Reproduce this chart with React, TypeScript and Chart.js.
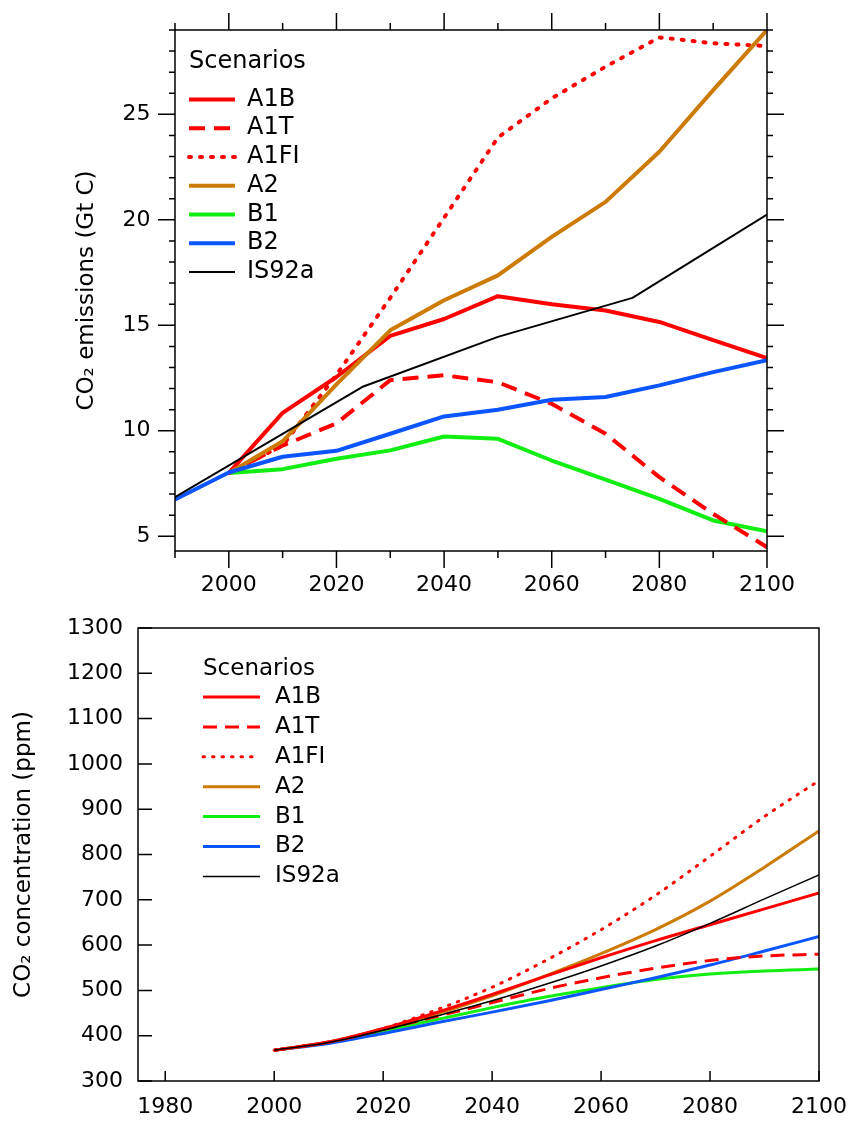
import React, { useEffect, useRef } from 'react';
import { Chart, registerables } from 'chart.js';

Chart.register(...registerables);

const FONT = '"DejaVu Sans", "Liberation Sans", sans-serif';

// ---------- Top chart: CO2 emissions (Gt C) ----------
const emisYears = [1990, 2000, 2010, 2020, 2030, 2040, 2050, 2060, 2070, 2080, 2090, 2100];
const emisA1B = [null, 8.0, 10.85, 12.55, 14.5, 15.3, 16.38, 16.0, 15.7, 15.16, 14.3, 13.45];
const emisA1T = [null, 8.0, 9.3, 10.35, 12.4, 12.63, 12.3, 11.28, 9.86, 7.8, 6.06, 4.48];
const emisA1FI = [null, 8.0, 9.3, 12.65, 16.3, 20.1, 23.9, 25.76, 27.26, 28.65, 28.37, 28.24];
const emisA2 = [null, 8.0, 9.5, 12.2, 14.76, 16.19, 17.37, 19.19, 20.85, 23.23, 26.15, 29.0];
const emisB1 = [null, 8.0, 8.18, 8.67, 9.07, 9.73, 9.62, 8.59, 7.68, 6.77, 5.75, 5.24];
const emisB2 = [6.74, 8.02, 8.77, 9.05, 9.86, 10.68, 11.0, 11.47, 11.6, 12.15, 12.78, 13.34];
const emisIS92aYears = [1990, 2025, 2050, 2075, 2100];
const emisIS92a = [6.85, 12.1, 14.45, 16.3, 20.25];

const emisXTicks = [2000, 2020, 2040, 2060, 2080, 2100];
const emisXMinor = [1990, 2010, 2030, 2050, 2070, 2090];
const emisYTicks = [5, 10, 15, 20, 25];
const emisYMinor = [6, 7, 8, 9, 11, 12, 13, 14, 16, 17, 18, 19, 21, 22, 23, 24, 26, 27, 28, 29];

// ---------- Bottom chart: CO2 concentration (ppm) ----------
const concYears = [2000, 2010, 2020, 2030, 2040, 2050, 2060, 2070, 2080, 2090, 2100];
const concA1B = [368, 386, 416, 452, 491, 532, 572, 610, 645, 680, 715];
const concA1T = [368, 386, 414, 443, 473, 503, 528, 549, 566, 576, 580];
const concA1FI = [368, 386, 416, 458, 507, 567, 634, 710, 796, 884, 963];
const concA2 = [368, 386, 414, 449, 488, 533, 581, 634, 697, 772, 852];
const concB1 = [368, 385, 410, 436, 462, 486, 506, 524, 536, 543, 547];
const concB2 = [368, 383, 405, 429, 452, 476, 502, 528, 556, 587, 619];
const concIS92a = [368, 385, 412, 444, 477, 514, 554, 598, 648, 702, 755];

const concXTicks = [1980, 2000, 2020, 2040, 2060, 2080, 2100];
const concYTicks = [300, 400, 500, 600, 700, 800, 900, 1000, 1100, 1200, 1300];

const scenarioNames = ['A1B', 'A1T', 'A1FI', 'A2', 'B1', 'B2', 'IS92a'];

const RED = '#ff0000';
const ORANGE = '#cc7a00';
const GREEN = '#11ee11';
const BLUE = '#0a55ff';
const BLACK = '#000000';

function pts(xs: number[], ys: (number | null)[]) {
  return xs.map((x, i) => ({ x, y: ys[i] })).filter((p) => p.y !== null);
}

function makeDatasets(series: { x: number[]; y: (number | null)[] }[], thick: number, thin: number, dash: number[], dot: number[], orders: number[]) {
  const styles = [
    { c: RED, w: thick, d: [] as number[], cap: 'butt' },
    { c: RED, w: thick, d: dash, cap: 'butt' },
    { c: RED, w: thick, d: dot, cap: 'round' },
    { c: ORANGE, w: thick, d: [], cap: 'butt' },
    { c: GREEN, w: thick, d: [], cap: 'butt' },
    { c: BLUE, w: thick, d: [], cap: 'butt' },
    { c: BLACK, w: thin, d: [], cap: 'butt' },
  ];
  return series.map((s, i) => ({
    label: scenarioNames[i],
    data: pts(s.x, s.y),
    borderColor: styles[i].c,
    backgroundColor: styles[i].c,
    borderWidth: styles[i].w,
    borderDash: styles[i].d,
    borderCapStyle: styles[i].cap,
    borderJoinStyle: 'round',
    pointRadius: 0,
    fill: false,
    order: orders[i],
  }));
}

type TickSpec = { scale: string; values: number[]; len: number; side: 'top' | 'bottom' | 'left' | 'right'; inward: boolean };
type LegendSpec = { x: number; titleY: number; lineX0: number; lineX1: number; textX: number; rowY0: number; rowH: number; font: number };

function makeDecor(ticks: TickSpec[], legend: LegendSpec) {
  return {
    id: 'decor',
    afterDatasetsDraw(chart: any) {
      const { ctx, chartArea: a, scales } = chart;
      ctx.save();
      ctx.strokeStyle = '#000';
      ctx.lineWidth = 1.5;
      ctx.setLineDash([]);
      ctx.lineCap = 'butt';
      ctx.strokeRect(a.left, a.top, a.right - a.left, a.bottom - a.top);
      ctx.beginPath();
      for (const t of ticks) {
        const s = scales[t.scale];
        for (const v of t.values) {
          const p = s.getPixelForValue(v);
          if (t.side === 'bottom') {
            ctx.moveTo(p, a.bottom);
            ctx.lineTo(p, a.bottom + (t.inward ? -t.len : t.len));
          } else if (t.side === 'top') {
            ctx.moveTo(p, a.top);
            ctx.lineTo(p, a.top + (t.inward ? t.len : -t.len));
          } else if (t.side === 'left') {
            ctx.moveTo(a.left, p);
            ctx.lineTo(a.left + (t.inward ? t.len : -t.len), p);
          } else {
            ctx.moveTo(a.right, p);
            ctx.lineTo(a.right + (t.inward ? -t.len : t.len), p);
          }
        }
      }
      ctx.stroke();

      // legend
      ctx.font = `${legend.font}px ${FONT}`;
      ctx.fillStyle = '#000';
      ctx.textAlign = 'left';
      ctx.textBaseline = 'middle';
      ctx.fillText('Scenarios', legend.x, legend.titleY);
      chart.data.datasets.forEach((ds: any, i: number) => {
        const y = legend.rowY0 + i * legend.rowH;
        ctx.save();
        ctx.strokeStyle = ds.borderColor;
        ctx.lineWidth = ds.borderWidth;
        ctx.setLineDash(ds.borderDash || []);
        ctx.lineCap = ds.borderCapStyle || 'butt';
        ctx.beginPath();
        ctx.moveTo(legend.lineX0, y);
        ctx.lineTo(legend.lineX1, y);
        ctx.stroke();
        ctx.restore();
        ctx.fillText(ds.label, legend.textX, y);
      });
      ctx.restore();
    },
  };
}

function tickFont(size: number) {
  return { family: FONT, size };
}

function emisConfig(): any {
  const datasets = makeDatasets(
    [
      { x: emisYears, y: emisA1B },
      { x: emisYears, y: emisA1T },
      { x: emisYears, y: emisA1FI },
      { x: emisYears, y: emisA2 },
      { x: emisYears, y: emisB1 },
      { x: emisYears, y: emisB2 },
      { x: emisIS92aYears, y: emisIS92a },
    ],
    4,
    2,
    [16, 9],
    [2, 9],
    [3, 5, 4, 2, 6, 1, 0]
  );
  const ticks: TickSpec[] = [
    { scale: 'x', values: emisXTicks, len: 17, side: 'bottom', inward: false },
    { scale: 'x', values: emisXMinor, len: 7, side: 'bottom', inward: false },
    { scale: 'x', values: emisXTicks, len: 17, side: 'top', inward: false },
    { scale: 'x', values: emisXMinor, len: 7, side: 'top', inward: false },
    { scale: 'y', values: emisYTicks, len: 17, side: 'left', inward: false },
    { scale: 'y', values: emisYMinor, len: 6, side: 'left', inward: false },
    { scale: 'y', values: emisYTicks, len: 17, side: 'right', inward: false },
    { scale: 'y', values: emisYMinor, len: 6, side: 'right', inward: false },
  ];
  const legend: LegendSpec = { x: 189, titleY: 62, lineX0: 189, lineX1: 235, textX: 247, rowY0: 99.5, rowH: 28.75, font: 24 };
  return {
    type: 'line',
    data: { datasets },
    options: {
      responsive: false,
      animation: false,
      devicePixelRatio: 1,
      layout: { padding: { left: 0, right: 81, top: 30, bottom: 0 } },
      plugins: { legend: { display: false }, tooltip: { enabled: false } },
      scales: {
        x: {
          type: 'linear',
          min: 1990,
          max: 2100,
          grid: { display: false, drawTicks: false },
          border: { display: false },
          afterBuildTicks: (s: any) => {
            s.ticks = emisXTicks.map((v) => ({ value: v }));
          },
          afterFit: (s: any) => {
            s.height = 49;
            s.paddingLeft = 0;
            s.paddingRight = 0;
          },
          ticks: { font: tickFont(22), color: '#000', padding: 21, maxRotation: 0, autoSkip: false, callback: (v: any) => String(v) },
        },
        y: {
          type: 'linear',
          min: 4.3,
          max: 29,
          grid: { display: false, drawTicks: false },
          border: { display: false },
          afterBuildTicks: (s: any) => {
            s.ticks = emisYTicks.map((v) => ({ value: v }));
          },
          afterFit: (s: any) => {
            s.width = 175;
            s.paddingTop = 0;
            s.paddingBottom = 0;
          },
          ticks: { font: tickFont(22), color: '#000', padding: 24.5, autoSkip: false, callback: (v: any) => String(v) },
          title: { display: true, text: 'CO₂ emissions (Gt C)', color: '#000', font: { family: FONT, size: 23 }, padding: { top: 73, bottom: 0 } },
        },
      },
    },
    plugins: [makeDecor(ticks, legend)],
  };
}

function concConfig(): any {
  const datasets = makeDatasets(
    [
      { x: concYears, y: concA1B },
      { x: concYears, y: concA1T },
      { x: concYears, y: concA1FI },
      { x: concYears, y: concA2 },
      { x: concYears, y: concB1 },
      { x: concYears, y: concB2 },
      { x: concYears, y: concIS92a },
    ],
    3,
    1.5,
    [14, 8],
    [1.5, 8],
    [2, 3, 1, 4, 6, 5, 0]
  ).map((d) => ({ ...d, cubicInterpolationMode: 'monotone' }));
  const ticks: TickSpec[] = [
    { scale: 'x', values: concXTicks, len: 10, side: 'bottom', inward: true },
    { scale: 'y', values: concYTicks, len: 14, side: 'left', inward: true },
  ];
  const legend: LegendSpec = { x: 203, titleY: 69, lineX0: 203, lineX1: 260, textX: 275, rowY0: 97, rowH: 29.9, font: 23 };
  return {
    type: 'line',
    data: { datasets },
    options: {
      responsive: false,
      animation: false,
      devicePixelRatio: 1,
      layout: { padding: { left: 0, right: 29, top: 28, bottom: 0 } },
      plugins: { legend: { display: false }, tooltip: { enabled: false } },
      scales: {
        x: {
          type: 'linear',
          min: 1975,
          max: 2100,
          grid: { display: false, drawTicks: false },
          border: { display: false },
          afterBuildTicks: (s: any) => {
            s.ticks = concXTicks.map((v) => ({ value: v }));
          },
          afterFit: (s: any) => {
            s.height = 43;
            s.paddingLeft = 0;
            s.paddingRight = 0;
          },
          ticks: { font: tickFont(22), color: '#000', padding: 13, maxRotation: 0, autoSkip: false, callback: (v: any) => String(v) },
        },
        y: {
          type: 'linear',
          min: 300,
          max: 1300,
          grid: { display: false, drawTicks: false },
          border: { display: false },
          afterBuildTicks: (s: any) => {
            s.ticks = concYTicks.map((v) => ({ value: v }));
          },
          afterFit: (s: any) => {
            s.width = 138;
            s.paddingTop = 0;
            s.paddingBottom = 0;
          },
          ticks: { font: tickFont(22), color: '#000', padding: 15, autoSkip: false, callback: (v: any) => String(v) },
          title: { display: true, text: 'CO₂ concentration (ppm)', color: '#000', font: { family: FONT, size: 23 }, padding: { top: 10, bottom: 0 } },
        },
      },
    },
    plugins: [makeDecor(ticks, legend)],
  };
}

function ChartCanvas({ makeConfig, width, height, top }: { makeConfig: () => any; width: number; height: number; top: number }) {
  const ref = useRef<HTMLCanvasElement>(null);
  useEffect(() => {
    const chart = new Chart(ref.current as HTMLCanvasElement, makeConfig());
    return () => chart.destroy();
  }, [makeConfig]);
  return (
    <canvas
      ref={ref}
      width={width}
      height={height}
      style={{ position: 'absolute', left: 0, top, width, height, display: 'block' }}
    />
  );
}

export default function App() {
  return (
    <div style={{ position: 'absolute', left: 0, top: 0, width: 848, height: 1124, background: '#fff' }}>
      <ChartCanvas makeConfig={emisConfig} width={848} height={600} top={0} />
      <ChartCanvas makeConfig={concConfig} width={848} height={524} top={600} />
    </div>
  );
}
